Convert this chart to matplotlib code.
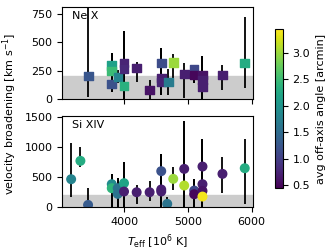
import matplotlib.pyplot as plt
import matplotlib as mpl
import numpy as np

# Ne X (squares)
ne_teff = [3442, 3808, 3808, 3808, 3906, 4000, 4000, 4000, 4198, 4401, 4583, 4583, 4583,
           4693, 4771, 4943, 5099, 5099, 5229, 5229, 5229, 5542, 5891]
ne_vel = [203, 293, 247, 132, 195, 316, 265, 115, 274, 79, 318, 186, 150,
          150, 322, 220, 265, 212, 212, 168, 106, 212, 318]
ne_lo = [20, 62, 62, 62, 140, -50, -50, -50, 150, 0, 35, 35, 35,
         35, 185, 5, 145, 145, 0, 0, 0, 79, 97]
ne_hi = [810, 406, 406, 406, 260, 600, 600, 600, 326, 165, 450, 450, 450,
         265, 400, 315, 280, 280, 380, 380, 380, 300, 724]
ne_ang = [1.25, 2.15, 2.5, 1.2, 1.8, 0.75, 0.8, 2.35, 0.7, 0.6, 1.15, 0.7, 0.75,
          1.7, 3.0, 0.7, 1.1, 0.5, 0.6, 0.7, 0.7, 0.7, 2.3]

# Si XIV (circles)
si_teff = [3172, 3317, 3437, 3808, 3808, 3901, 3901, 4000, 4000, 4198, 4401, 4583, 4583, 4583,
           4677, 4771, 4943, 4943, 5099, 5099, 5229, 5229, 5229, 5229, 5542, 5891]
si_vel = [461, 767, 33, 378, 311, 311, 217, 395, 256, 244, 244, 595, 290, 256,
          50, 467, 633, 356, 272, 211, 672, 378, 267, 172, 550, 644]
si_lo = [162, 672, -50, -50, -50, -50, -50, -50, -50, 50, 94, -50, -50, -50,
         -50, 283, -50, -50, -50, -50, -50, -50, -50, -50, 228, 50]
si_hi = [1061, 1005, 317, 550, 550, 483, 483, 744, 744, 367, 433, 878, 878, 878,
         170, 672, 1433, 1433, 467, 467, 1128, 1128, 1128, 1128, 828, 1128]
si_ang = [1.8, 2.3, 1.3, 1.9, 2.4, 1.6, 1.6, 2.2, 0.7, 0.7, 0.7, 1.2, 0.7, 0.7,
          1.6, 3.0, 0.7, 3.1, 1.1, 0.5, 0.7, 0.7, 0.6, 3.4, 0.7, 2.3]

vmin, vmax = 0.45, 3.45
plt.rcParams['font.size'] = 8

fig = plt.figure(figsize=(3.32, 2.52), dpi=100)
ax1 = fig.add_axes([0.187, 0.607, 0.575, 0.365])
ax2 = fig.add_axes([0.187, 0.179, 0.575, 0.361], sharex=ax1)
cax = fig.add_axes([0.828, 0.254, 0.024, 0.631])

panels = [(ax1, ne_teff, ne_vel, ne_lo, ne_hi, ne_ang, 's', 'Ne X'),
          (ax2, si_teff, si_vel, si_lo, si_hi, si_ang, 'o', 'Si XIV')]
for ax, t, v, lo, hi, ang, mk, name in panels:
    t = np.array(t)
    v = np.array(v)
    err = [v - np.array(lo), np.array(hi) - v]
    ax.axhspan(0, 200, color='0.8', zorder=0)
    ax.errorbar(t, v, yerr=err, fmt='none', ecolor='black', elinewidth=1.3, zorder=1)
    ax.scatter(t, v, c=ang, cmap='viridis', vmin=vmin, vmax=vmax, marker=mk, s=38, zorder=2)
    ax.text(0.05, 0.9, name, transform=ax.transAxes, va='center')

ax1.set_xlim(3030, 6020)
ax1.set_ylim(0, 810)
ax1.set_yticks([0, 250, 500, 750])
ax2.set_ylim(0, 1515)
ax2.set_yticks([0, 500, 1000, 1500])
ax2.set_xticks([4000, 5000, 6000])
ax1.tick_params(labelbottom=False)
ax2.set_xlabel(r'$T_{\rm eff}$ [10$^6$ K]')
fig.text(0.03, 0.55, r'velocity broadening [km s$^{-1}$]', rotation=90, va='center', ha='center')

sm = mpl.cm.ScalarMappable(norm=mpl.colors.Normalize(vmin, vmax), cmap='viridis')
cb = fig.colorbar(sm, cax=cax)
cb.set_ticks([0.5, 1.0, 1.5, 2.0, 2.5, 3.0])
cb.set_label('avg off-axis angle [arcmin]')

fig.savefig('out.png', dpi=100)
